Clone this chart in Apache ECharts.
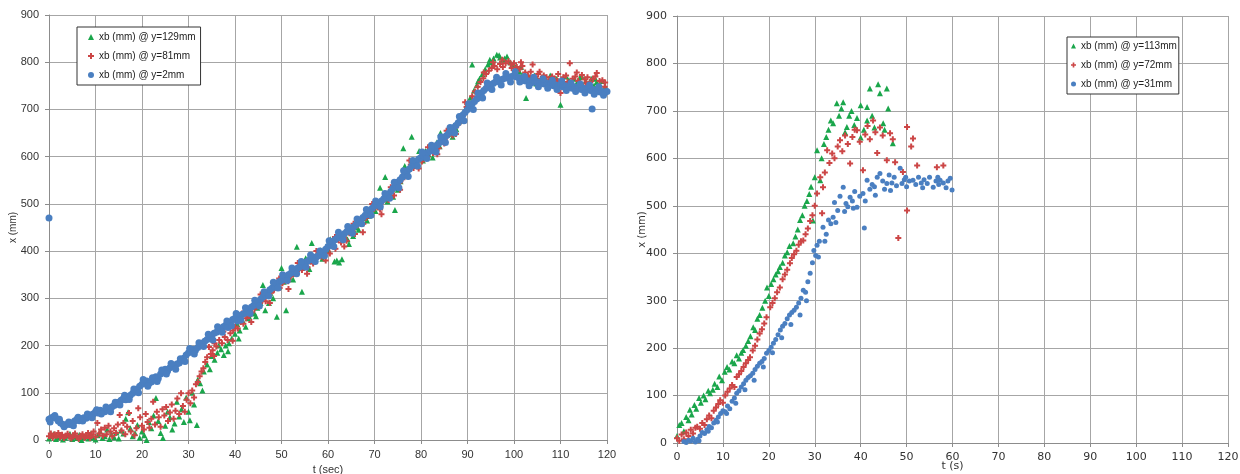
<!DOCTYPE html>
<html>
<head>
<meta charset="utf-8">
<script src="https://cdn.jsdelivr.net/npm/echarts@6/dist/echarts.min.js"></script>
<style>html,body{margin:0;padding:0;background:#fff}#c{width:1240px;height:474px}</style>
</head>
<body>
<div id="c"></div>
<script>
// ---------- tick labels ----------
var xTicks = [0,10,20,30,40,50,60,70,80,90,100,110,120];
var yTicks = [0,100,200,300,400,500,600,700,800,900];

// ---------- series names ----------
var namesL = ['xb (mm) @ y=129mm','xb (mm) @ y=81mm','xb (mm) @ y=2mm'];
var namesR = ['xb (mm) @ y=113mm','xb (mm) @ y=72mm','xb (mm) @ y=31mm'];

// ---------- left chart data [t, x] ----------
var greenL = [[0,3],[0.5,8],[1,12],[1.5,2],[2,6],[2.5,10],[3,1],[3.5,5],[4,9],[4.5,13],[5,2],[5.5,7],[6,4],[6.5,11],[7,0],[7.5,6],[8,9],[8.5,3],[9,14],[9.5,5],[10,1],[10.5,10],[11,18],[11.5,4],[12,8],[12.5,22],[13,2],[13.5,12],[14,6],[14.5,16],[15,3],[15.5,20],[16,14],[16.5,45],[17,59],[17.5,25],[18,8],[18.5,15],[19,32],[19.5,5],[20,18],[20.5,10],[21,0],[21.5,38],[22,25],[22.5,52],[23,89],[23.5,40],[24,15],[24.5,4],[25,30],[25.5,60],[26,48],[26.5,22],[27,35],[27.5,81],[28,50],[28.5,65],[29,38],[29.5,90],[30,60],[30.3,42],[30.8,100],[31.2,75],[31.8,32],[32,128],[32.5,120],[33,105],[33.3,145],[34,160],[34.6,150],[35,178],[35.6,170],[36.2,185],[37,192],[37.6,180],[38,200],[38.7,205],[39.3,215],[40,225],[40.5,245],[41,232],[41.7,252],[42.3,240],[43,262],[43.6,272],[44.2,268],[44.8,280],[45.5,290],[46,328],[46.5,275],[47,305],[47.6,312],[48.2,300],[49,261],[49.5,325],[50,364],[50.5,335],[51,275],[51.6,345],[52.2,352],[52.8,360],[53.3,409],[53.8,366],[54.4,314],[55,372],[55.6,380],[56,362],[56.5,417],[57.2,388],[57.8,395],[58.4,402],[59,392],[59.6,410],[60.2,400],[60.8,418],[61.4,378],[61.9,380],[62.4,376],[63,383],[63.6,430],[64.2,425],[64.8,440],[65.4,432],[66,450],[66.6,445],[67.2,460],[67.8,470],[68.4,465],[69,482],[69.6,490],[70.2,485],[70.8,500],[71.2,534],[71.8,510],[72.3,557],[72.8,505],[73.4,520],[74,515],[74.4,487],[75,530],[75.6,548],[76.2,618],[76.8,565],[77.4,575],[78,642],[78.6,590],[79.2,582],[79.8,600],[80.4,592],[81,612],[81.6,605],[82.2,620],[82.8,612],[83.4,630],[84,622],[84.6,640],[85.2,632],[85.8,648],[86.4,655],[87,665],[87.6,658],[88.2,675],[88.8,690],[89.4,698],[90,712],[90.6,725],[91,795],[91.4,740],[92,752],[92.6,765],[93.2,775],[93.8,785],[94.4,795],[95,800],[95.6,808],[96.3,816],[97,810],[97.6,805],[98.5,812],[99.2,800],[100,795],[100.6,788],[101.2,780],[101.8,772],[102.6,724],[103.2,768],[103.8,760],[104.4,772],[105,765],[105.6,758],[106.2,768],[106.8,762],[107.4,755],[108,770],[108.6,760],[109.2,765],[110,710],[110.6,758],[111.2,770],[111.8,762],[112.4,755],[113,765],[113.6,758],[114.2,768],[114.8,752],[115.4,760],[116,755],[116.6,765],[117.2,750],[117.8,758],[118.4,752],[119,760],[119.6,748]];
var greenL2 = [[36.5,200],[38.5,188],[40.8,215],[42.8,258],[44.5,262],[47.3,290],[48.6,330],[52.5,340],[55.2,385],[58.8,384],[60.5,425],[64.5,415],[66.3,462],[68.8,475],[70.5,495],[73.8,532],[76.5,580],[79.6,612],[82.5,598],[84.2,650],[86.8,642],[88.6,682],[90.3,705],[92.3,760],[94.8,805],[96.8,815],[98,808],[99.6,795],[101.5,790],[104.8,755],[107.8,772],[111.5,748],[114.6,770],[117.5,765]];

var redL = [[0,8],[0.4,14],[0.8,5],[1.2,12],[1.6,9],[2,15],[2.4,6],[2.8,11],[3.2,4],[3.6,9],[4,13],[4.4,7],[4.8,3],[5.2,10],[5.6,14],[6,6],[6.4,2],[6.8,9],[7.2,12],[7.6,5],[8,8],[8.4,15],[8.8,4],[9.2,11],[9.6,18],[10,7],[10.4,36],[10.8,14],[11.2,22],[11.6,9],[12,26],[12.4,12],[12.8,30],[13.2,18],[13.6,8],[14,25],[14.4,15],[14.8,33],[15.2,53],[15.6,20],[16,36],[16.4,12],[16.8,28],[17.2,57],[17.6,18],[18,40],[18.4,10],[18.8,25],[19.2,67],[19.6,48],[20,30],[20.4,22],[20.8,55],[21.2,38],[21.6,26],[22,45],[22.4,81],[22.8,33],[23.2,60],[23.6,48],[24,28],[24.4,65],[24.8,52],[25.2,70],[25.6,40],[26,58],[26.4,75],[26.8,45],[27.2,62],[27.6,88],[28,55],[28.4,99],[28.8,72],[29.2,60],[29.6,85],[30,99],[30.4,78],[30.8,105],[31.2,90],[31.6,118],[32,123],[32.4,135],[32.8,145],[33.2,152],[33.6,165],[34,175],[34.4,197],[34.8,182],[35.2,190],[35.6,205],[36,198],[36.6,212],[37.2,205],[37.8,218],[38.4,212],[39,226],[39.6,232],[40,240],[40.6,236],[41.2,250],[41.8,246],[42.4,258],[43,262],[43.6,270],[44.2,278],[44.8,283],[45.4,290],[46,298],[46.6,294],[47.2,305],[47.8,312],[48.4,318],[49,325],[49.6,322],[50.2,332],[50.8,340],[51.4,336],[52,346],[52.6,352],[53.2,356],[53.8,362],[54.4,360],[55,370],[55.6,366],[56.2,378],[56.8,374],[57.4,384],[58,392],[58.6,388],[59.2,398],[59.8,404],[60.4,395],[61,412],[61.6,405],[62.2,424],[62.8,418],[63.4,430],[64,422],[64.6,438],[65.2,444],[65.8,436],[66.4,455],[67,462],[67.6,458],[68.2,470],[68.8,478],[69.4,485],[70,490],[70.6,496],[71.2,488],[71.8,505],[72.4,512],[73,508],[73.6,525],[74.2,518],[74.8,536],[75.4,545],[76,552],[76.6,560],[77.2,572],[77.8,583],[78.4,576],[79,588],[79.6,595],[80.2,590],[80.8,606],[81.4,600],[82,615],[82.6,608],[83.2,624],[83.8,618],[84.4,634],[85,628],[85.6,642],[86.2,650],[86.8,645],[87.4,662],[88,668],[88.6,676],[89.2,690],[89.8,705],[90.4,712],[91,728],[91.6,738],[92.2,748],[92.8,758],[93.4,766],[94,775],[94.6,782],[95.2,788],[95.8,792],[96.4,785],[97,796],[97.6,790],[98.2,798],[98.8,802],[99.4,795],[100,798],[100.6,790],[101.2,785],[101.8,792],[102.4,778],[103,772],[103.6,780],[104,795],[104.6,768],[105.2,775],[105.8,765],[106.4,772],[107,768],[107.6,762],[108.2,770],[108.8,765],[109.4,760],[110,735],[110.6,768],[111.2,772],[112,798],[112.6,765],[113.2,770],[113.8,760],[114.6,773],[115.2,764],[115.8,768],[116.4,758],[117,765],[117.8,777],[118.4,760],[119,762],[119.6,757]];
var redL2 = [[35.5,178],[37.5,230],[39.5,210],[41.5,268],[43.5,250],[45.5,308],[47.5,290],[49.5,342],[51.5,320],[53.5,375],[55.5,352],[57.5,400],[59.5,380],[61.5,430],[63.5,410],[65.5,458],[67.5,440],[69.5,500],[71.5,478],[73.5,535],[75.5,530],[77.5,592],[79.5,575],[81.5,620],[83.5,605],[85.5,655],[87.5,648],[89.5,715],[91.5,720],[93.5,778],[95.5,800],[97.5,805],[99.5,788],[101.5,800],[103.5,765],[105.5,780],[107.5,758],[109.5,775],[111.5,758],[113.5,778],[115.5,755],[117.5,770],[119.5,748]];

var blueL = [[0,44],[0.5,47],[1,49],[1.5,46],[2,40],[2.5,36],[3,33],[3.5,32],[4,34],[4.5,33],[5,36],[5.5,40],[6,44],[6.5,41],[7,45],[7.5,47],[8,46],[8.5,50],[9,53],[9.5,55],[10,60],[10.5,57],[11,63],[11.5,61],[12,60],[12.5,65],[13,67],[13.5,70],[14,73],[14.5,76],[15,80],[15.5,84],[16,88],[16.5,85],[17,92],[17.5,95],[18,99],[18.5,104],[19,108],[19.5,114],[20,118],[20.5,121],[21,125],[21.5,120],[22,123],[22.5,128],[23,134],[23.5,130],[24,140],[24.5,145],[25,150],[25.5,146],[26,153],[26.5,157],[27,156],[27.5,161],[28,163],[28.5,168],[29,173],[29.5,180],[30,185],[30.5,188],[31,192],[31.5,190],[32,196],[32.5,200],[33,205],[33.5,209],[34,213],[34.5,218],[35,221],[35.5,226],[36,228],[36.5,233],[37,236],[37.5,240],[38,243],[38.5,238],[39,250],[39.5,255],[40,258],[40.5,252],[41,262],[41.5,266],[42,268],[42.5,272],[43,277],[43.5,281],[44,285],[44.5,290],[45,293],[45.5,298],[46,303],[46.5,308],[47,312],[47.5,318],[48,322],[48.5,326],[49,331],[49.5,335],[50,338],[50.5,342],[51,346],[51.5,350],[52,353],[52.5,357],[53,360],[53.5,364],[54,367],[54.5,371],[55,374],[55.5,378],[56,381],[56.5,383],[57,386],[57.5,388],[58,390],[58.5,394],[59,398],[59.5,404],[60,410],[60.5,415],[61,420],[61.5,424],[62,428],[62.5,430],[63,433],[63.5,437],[64,441],[64.5,443],[65,447],[65.5,451],[66,456],[66.5,461],[67,466],[67.5,471],[68,476],[68.5,481],[69,486],[69.5,491],[70,496],[70.5,499],[71,502],[71.5,506],[72,511],[72.5,515],[73,521],[73.5,526],[74,533],[74.5,540],[75,546],[75.5,551],[76,557],[76.5,562],[77,568],[77.5,574],[78,580],[78.5,585],[79,590],[79.5,595],[80,598],[80.5,602],[81,605],[81.5,609],[82,612],[82.5,616],[83,620],[83.5,625],[84,630],[84.5,635],[85,641],[85.5,645],[86,650],[86.5,655],[87,661],[87.5,666],[88,672],[88.5,680],[89,688],[89.5,694],[90,700],[90.5,706],[91,712],[91.5,717],[92,722],[92.5,729],[93,735],[93.5,740],[94,745],[94.5,749],[95,752],[95.5,755],[96,758],[96.5,760],[97,762],[97.5,764],[98,766],[98.5,767],[99,768],[99.5,770],[100,771],[100.5,769],[101,767],[101.5,764],[102,762],[102.5,760],[103,761],[103.5,758],[104,757],[104.5,760],[105,758],[105.5,755],[106,757],[106.5,754],[107,756],[107.5,752],[108,754],[108.5,750],[109,752],[109.5,749],[110,752],[110.5,748],[111,750],[111.5,746],[112,748],[112.5,745],[113,748],[113.5,744],[114,746],[114.5,742],[115,745],[115.5,741],[116,744],[116.5,740],[117,742],[117.5,738],[118,740],[118.5,737],[119,738],[119.5,736],[120,738],[0,470],[116.8,701]];
var blueL2 = [[0.25,38],[1.25,52],[2.25,44],[3.25,28],[4.25,38],[5.25,30],[6.25,48],[7.25,40],[8.25,55],[9.25,47],[10.25,64],[11.25,55],[12.25,70],[13.25,60],[14.25,80],[15.25,74],[16.25,95],[17.25,86],[18.25,108],[19.25,100],[20.25,128],[21.25,114],[22.25,132],[23.25,124],[24.25,148],[25.25,140],[26.25,162],[27.25,150],[28.25,172],[29.25,166],[30.25,194],[31.25,182],[32.25,206],[33.25,198],[34.25,224],[35.25,212],[36.25,240],[37.25,228],[38.25,252],[39.25,242],[40.25,268],[41.25,254],[42.25,280],[43.25,268],[44.25,296],[45.25,284],[46.25,314],[47.25,305],[48.25,334],[49.25,322],[50.25,350],[51.25,338],[52.25,364],[53.25,352],[54.25,378],[55.25,366],[56.25,392],[57.25,378],[58.25,400],[59.25,390],[60.25,422],[61.25,410],[62.25,440],[63.25,424],[64.25,452],[65.25,438],[66.25,468],[67.25,458],[68.25,488],[69.25,476],[70.25,506],[71.25,494],[72.25,522],[73.25,512],[74.25,546],[75.25,534],[76.25,570],[77.25,558],[78.25,592],[79.25,580],[80.25,610],[81.25,596],[82.25,624],[83.25,610],[84.25,642],[85.25,630],[86.25,662],[87.25,650],[88.25,685],[89.25,676],[90.25,712],[91.25,700],[92.25,735],[93.25,724],[94.25,756],[95.25,742],[96.25,768],[97.25,752],[98.25,776],[99.25,758],[100.25,780],[101.25,758],[102.25,770],[103.25,750],[104.25,768],[105.25,748],[106.25,765],[107.25,745],[108.25,762],[109.25,742],[110.25,760],[111.25,740],[112.25,756],[113.25,738],[114.25,754],[115.25,735],[116.25,752],[117.25,732],[118.25,748],[119.25,730]];

// ---------- right chart data [t, x] ----------
var greenR = [[0,15],[0.5,38],[1,42],[1.5,25],[2,55],[2.5,48],[2.8,70],[3.2,60],[3.8,80],[4.2,72],[4.8,95],[5.2,85],[5.8,100],[6.2,92],[6.8,110],[7.2,105],[7.8,112],[8.2,125],[8.8,118],[9.2,140],[9.8,132],[10.4,150],[10.9,160],[11.4,155],[12,172],[12.5,168],[13,185],[13.5,178],[14,190],[14.4,196],[15,205],[15.5,215],[16,225],[16.6,244],[17,238],[17.5,262],[18,270],[18.6,285],[19.2,300],[19.6,328],[20,310],[20.5,335],[21,345],[21.5,355],[22,362],[22.4,371],[23,380],[23.5,395],[24,402],[24.5,415],[25.3,421],[25.8,435],[26.3,450],[26.8,470],[27.3,480],[27.8,500],[28.3,510],[28.8,525],[29.2,540],[29.6,469],[30,560],[30.5,617],[31.2,554],[31.5,600],[32,630],[32.5,645],[33,660],[33.5,680],[34,674],[34.8,716],[35.3,690],[35.8,705],[36.2,718],[36.6,655],[37,666],[37.5,690],[38,700],[38.6,670],[39.2,685],[40,712],[40,644],[40.7,660],[41.4,680],[41.4,708],[42,747],[42.5,690],[43,665],[43.8,756],[44.2,737],[44.9,674],[45.2,660],[45.7,747],[46,705],[47,632]];

var redR = [[0,10],[0.5,5],[1,18],[1.5,8],[2,22],[2.5,15],[3,28],[3.5,20],[4,32],[4.4,34],[5,30],[5.5,42],[6,38],[6.5,50],[7,58],[7.5,52],[8,68],[8.5,75],[9,82],[9.4,90],[10,85],[10.5,100],[11,108],[11.5,115],[12,122],[12.5,118],[13,139],[13.5,145],[14,152],[14.5,160],[15,168],[15.5,175],[15.9,181],[16.5,195],[17,205],[17.5,218],[18,231],[18.5,240],[19,252],[19.5,265],[20.3,286],[20.8,295],[21.3,305],[21.8,318],[22.4,328],[23,345],[23.5,355],[24,365],[24.6,379],[25,390],[25.5,398],[26,405],[26.5,418],[27,425],[27.5,427],[28,440],[28.5,452],[29,468],[29.5,480],[30,500],[30.5,526],[31.2,560],[31.6,484],[31.8,539],[32.2,570],[32.7,617],[33.2,590],[33.8,610],[34.3,600],[35,625],[35.5,638],[36,615],[36.6,648],[37.2,630],[37.7,589],[38.2,645],[38.7,660],[39.2,659],[39.8,635],[40.5,575],[41,650],[41.5,668],[42,640],[42.7,680],[43.2,655],[43.6,611],[44.2,665],[44.8,648],[45.7,596],[46.4,653],[47,640],[47.5,592],[48.2,432],[49.2,571],[50.1,666],[50.1,490],[51,625],[51.4,642],[52.3,585],[56.6,581],[58,585]];

var blueR = [[1.5,3],[2,1],[2.5,6],[3,4],[3.5,10],[4,2],[4.5,8],[5,15],[5.5,22],[6,20],[6.5,28],[7,35],[7.5,32],[8,42],[8.5,48],[9,55],[9.5,62],[10,68],[10.5,66],[11,78],[11.5,72],[12,88],[12.5,95],[13,105],[13.5,110],[14,118],[14.5,125],[15,132],[15.5,138],[16,142],[16.5,147],[17,155],[17.5,162],[18,168],[18.5,172],[19,178],[19.5,189],[20,195],[20.5,202],[21,210],[21.5,218],[22,228],[22.5,238],[23,246],[23.5,252],[24,262],[24.5,270],[25,275],[25.5,280],[26,286],[26.5,295],[27,305],[27.5,322],[28,318],[28.5,340],[29,358],[29.5,380],[29.8,406],[30.2,395],[30.5,417],[31,425],[31.8,455],[32.5,440],[33,470],[33.5,462],[34,476],[34.3,507],[35,490],[35.5,520],[36.2,539],[36.8,505],[37.2,498],[37.7,518],[38.2,510],[38.7,530],[39.2,497],[39.8,520],[40.5,526],[40.8,453],[41.4,554],[42,535],[42.5,545],[43,540],[43.6,560],[44.2,568],[44.8,552],[45.2,535],[45.7,547],[46.2,565],[46.8,548],[47.3,560],[47.8,542],[48.6,579],[49,547],[49.5,555],[50,540],[50.6,552],[51.4,554],[52,545],[52.6,560],[53.2,548],[53.8,555],[54.5,547],[55,560],[55.8,539],[56.4,552],[57,545],[57.3,554],[58,548],[58.6,538],[59,552],[59.5,558],[59.9,533]];
var blueR2 = [[4.8,5],[6.8,25],[8.8,44],[10.8,62],[12.8,84],[14.8,112],[16.8,132],[18.8,160],[20.8,190],[22.8,222],[24.8,250],[26.8,270],[28.2,300],[30.8,392],[32.2,425],[34.6,465],[36.5,488],[38.4,495],[41,510],[43.2,522],[46.5,532],[49.8,560],[53.5,538],[56.8,560]];

var GREEN = '#1aa64b', RED = '#cc4646', BLUE = '#4a7fc1';
var PLUS = 'path://M2,0H4V2H6V4H4V6H2V4H0V2H2Z';
var fontL = 'Liberation Sans', fontR = 'DejaVu Sans';

function xAxis(idx, font, name, gap) {
  return {
    type: 'value', gridIndex: idx, min: xTicks[0], max: xTicks[xTicks.length - 1], interval: 10,
    name: name, nameLocation: 'middle', nameGap: gap, nameMoveOverlap: false,
    nameTextStyle: { fontFamily: font, fontSize: 11, color: '#333' },
    axisLine: { show: true, lineStyle: { color: '#8c8c8c', width: 1 } },
    axisTick: { show: true, length: 4, lineStyle: { color: '#8c8c8c' } },
    axisLabel: { fontFamily: font, fontSize: 11, color: '#333', margin: 9 },
    splitLine: { show: true, lineStyle: { color: '#a6a6a6', width: 1 } }
  };
}
function yAxis(idx, font, gap) {
  return {
    type: 'value', gridIndex: idx, min: yTicks[0], max: yTicks[yTicks.length - 1], interval: 100,
    name: 'x (mm)', nameLocation: 'middle', nameGap: gap, nameRotate: 90, nameMoveOverlap: false,
    nameTextStyle: { fontFamily: font, fontSize: 10, color: '#333' },
    axisLine: { show: true, lineStyle: { color: '#8c8c8c', width: 1 } },
    axisTick: { show: true, length: 4, lineStyle: { color: '#8c8c8c' } },
    axisLabel: { fontFamily: font, fontSize: 11, color: '#333', margin: 10 },
    splitLine: { show: true, lineStyle: { color: '#a6a6a6', width: 1 } }
  };
}
function sc(name, data, idx, sym, size, color) {
  return { type: 'scatter', name: name, data: data, xAxisIndex: idx, yAxisIndex: idx,
    symbol: sym, symbolSize: size, itemStyle: { color: color, opacity: 1 }, silent: true };
}

var chart = echarts.init(document.getElementById('c'), null, { renderer: 'canvas' });
chart.setOption({
  animation: false,
  backgroundColor: '#fff',
  grid: [
    { left: 49, right: 633, top: 15, bottom: 34, outerBoundsMode: 'none', containLabel: false },
    { left: 677, right: 12, top: 16, bottom: 31, outerBoundsMode: 'none', containLabel: false }
  ],
  xAxis: [xAxis(0, fontL, 't (sec)', 24), xAxis(1, fontR, 't (s)', 18)],
  yAxis: [yAxis(0, fontL, 31), yAxis(1, fontR, 30)],
  legend: [
    { data: namesL, orient: 'vertical', left: 77, top: 27, itemWidth: 6, itemHeight: 6, itemGap: 9,
      padding: [5, 5, 5, 11], borderColor: '#333', borderWidth: 1, backgroundColor: '#fff',
      textStyle: { fontFamily: fontL, fontSize: 10, color: '#222' } },
    { data: namesR, orient: 'vertical', left: 1067, top: 37, itemWidth: 5, itemHeight: 5, itemGap: 9,
      padding: [4, 2, 5, 4], borderColor: '#333', borderWidth: 1, backgroundColor: '#fff',
      textStyle: { fontFamily: fontL, fontSize: 10, color: '#222' } }
  ],
  series: [
    sc(namesL[0], greenL.concat(greenL2), 0, 'triangle', 6, GREEN),
    sc(namesL[1], redL.concat(redL2), 0, PLUS, 6, RED),
    sc(namesL[2], blueL.concat(blueL2), 0, 'circle', 7, BLUE),
    sc(namesR[0], greenR, 1, 'triangle', 6, GREEN),
    sc(namesR[1], redR, 1, PLUS, 6, RED),
    sc(namesR[2], blueR.concat(blueR2), 1, 'circle', 5, BLUE)
  ]
});
</script>
</body>
</html>
